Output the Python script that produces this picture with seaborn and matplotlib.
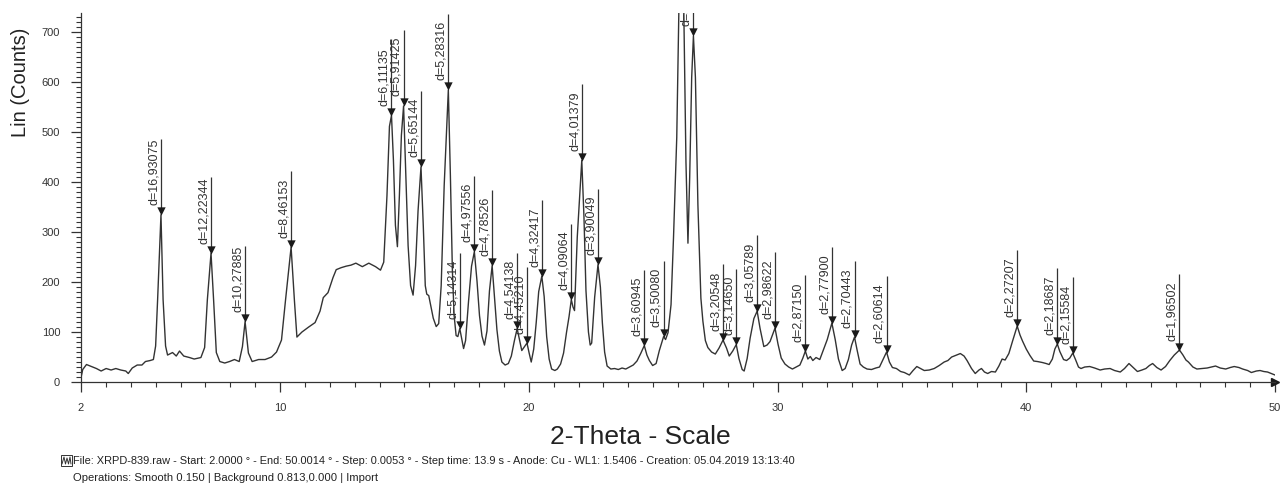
import numpy as np
import pandas as pd
import matplotlib
matplotlib.use("Agg")
import matplotlib.pyplot as plt
from matplotlib.ticker import MultipleLocator
from matplotlib.patches import Rectangle
from matplotlib.lines import Line2D
import seaborn as sns

# scan (2-theta in degrees, Lin counts)
two_theta = [
    2.0, 2.07, 2.22, 2.42, 2.62, 2.81, 3.01, 3.21, 3.40, 3.60,
    3.80, 3.90, 4.06, 4.26, 4.45, 4.59, 4.78, 4.91, 5.00, 5.08,
    5.215, 5.30, 5.40, 5.48, 5.68, 5.83, 5.96, 6.13, 6.36, 6.55,
    6.82, 6.97, 7.08, 7.227, 7.33, 7.44, 7.58, 7.78, 7.97, 8.17,
    8.36, 8.49, 8.596, 8.73, 8.88, 9.14, 9.40, 9.66, 9.86, 10.06,
    10.22, 10.446, 10.58, 10.68, 10.88, 11.15, 11.41, 11.61, 11.74, 11.93,
    12.13, 12.26, 12.46, 12.66, 12.85, 13.05, 13.31, 13.57, 13.84, 14.04,
    14.17, 14.30, 14.40, 14.482, 14.56, 14.64, 14.72, 14.80, 14.88, 14.968,
    15.06, 15.15, 15.25, 15.35, 15.45, 15.55, 15.668, 15.76, 15.84, 15.90,
    15.98, 16.06, 16.16, 16.28, 16.38, 16.48, 16.60, 16.767, 16.85, 16.93,
    17.00, 17.08, 17.15, 17.227, 17.30, 17.38, 17.46, 17.58, 17.70, 17.813,
    17.92, 18.02, 18.12, 18.22, 18.32, 18.42, 18.528, 18.62, 18.72, 18.82,
    18.92, 19.05, 19.18, 19.30, 19.42, 19.533, 19.62, 19.72, 19.82, 19.929,
    20.02, 20.10, 20.20, 20.30, 20.40, 20.525, 20.62, 20.72, 20.82, 20.92,
    21.05, 21.15, 21.28, 21.40, 21.52, 21.62, 21.711, 21.78, 21.84, 21.95,
    22.132, 22.22, 22.30, 22.40, 22.47, 22.53, 22.65, 22.783, 22.88, 22.96,
    23.05, 23.15, 23.30, 23.45, 23.60, 23.75, 23.90, 24.05, 24.20, 24.35,
    24.50, 24.645, 24.75, 24.85, 24.98, 25.12, 25.25, 25.421, 25.50, 25.60,
    25.72, 25.82, 25.95, 26.05, 26.13, 26.22, 26.32, 26.40, 26.47, 26.55,
    26.62, 26.70, 26.80, 26.92, 27.00, 27.10, 27.20, 27.35, 27.50, 27.65,
    27.81, 27.95, 28.06, 28.20, 28.342, 28.45, 28.58, 28.66, 28.78, 28.90,
    29.05, 29.182, 29.30, 29.45, 29.58, 29.70, 29.90, 30.02, 30.15, 30.30,
    30.45, 30.60, 30.75, 30.90, 31.02, 31.12, 31.22, 31.32, 31.42, 31.55,
    31.70, 31.85, 32.00, 32.186, 32.32, 32.45, 32.60, 32.72, 32.85, 32.98,
    33.096, 33.20, 33.32, 33.45, 33.60, 33.78, 33.95, 34.10, 34.25, 34.384,
    34.50, 34.62, 34.78, 34.95, 35.10, 35.30, 35.45, 35.60, 35.75, 35.90,
    36.10, 36.30, 36.50, 36.70, 36.85, 37.00, 37.20, 37.35, 37.50, 37.62,
    37.80, 37.95, 38.10, 38.20, 38.32, 38.45, 38.60, 38.76, 38.90, 39.03,
    39.15, 39.30, 39.45, 39.636, 39.75, 39.85, 40.00, 40.15, 40.30, 40.45,
    40.65, 40.80, 40.92, 41.05, 41.15, 41.25, 41.35, 41.50, 41.62, 41.75,
    41.87, 41.98, 42.10, 42.20, 42.35, 42.55, 42.75, 42.97, 43.15, 43.37,
    43.55, 43.78, 43.95, 44.13, 44.30, 44.47, 44.65, 44.81, 44.95, 45.08,
    45.25, 45.42, 45.60, 45.77, 45.95, 46.16, 46.30, 46.42, 46.52, 46.70,
    46.86, 47.05, 47.27, 47.45, 47.61, 47.80, 48.02, 48.20, 48.36, 48.55,
    48.70, 48.90, 49.05, 49.25, 49.40, 49.55, 49.70, 49.85, 50.00,
]
counts = [
    9, 25, 35, 31, 27, 22, 27, 24, 27, 24,
    22, 17, 28, 34, 34, 41, 43, 45, 72, 165,
    335, 165, 72, 54, 59, 52, 62, 52, 49, 46,
    49, 69, 165, 258, 165, 59, 41, 38, 41, 45,
    41, 71, 121, 58, 41, 45, 45, 50, 60, 84,
    163, 270, 163, 90, 100, 110, 119, 142, 169, 179,
    209, 225, 229, 232, 234, 238, 231, 238, 231, 224,
    240, 373, 512, 534, 444, 314, 271, 374, 494, 553,
    413, 273, 193, 174, 233, 343, 431, 313, 193, 176,
    173, 153, 128, 111, 117, 193, 393, 585, 413, 223,
    133, 93, 91, 107, 88, 67, 83, 162, 232, 261,
    202, 133, 92, 74, 102, 182, 233, 172, 105, 62,
    40, 34, 37, 52, 82, 107, 87, 63, 70, 78,
    57, 40, 66, 119, 181, 212, 171, 91, 46, 26,
    23, 26, 36, 58, 100, 131, 165, 150, 143, 290,
    444, 330, 183, 100, 74, 78, 170, 235, 190, 118,
    60, 32, 26, 27, 25, 28, 26, 30, 34, 42,
    57, 73, 54, 43, 33, 37, 63, 91, 85, 99,
    155, 290, 490, 790, 950, 790, 440, 278, 410, 610,
    693, 610, 355, 168, 122, 83, 69, 60, 56, 68,
    84, 68, 52, 62, 75, 47, 25, 22, 47, 88,
    127, 142, 107, 71, 74, 81, 108, 76, 48, 36,
    30, 26, 30, 34, 48, 62, 46, 51, 43, 49,
    45, 65, 85, 118, 85, 46, 23, 27, 45, 74,
    90, 64, 36, 30, 26, 25, 28, 30, 46, 60,
    40, 29, 27, 21, 19, 14, 23, 31, 27, 23,
    24, 27, 33, 40, 43, 50, 54, 57, 52, 43,
    27, 17, 24, 27, 20, 17, 21, 20, 32, 46,
    44, 57, 82, 112, 94, 82, 66, 53, 42, 41,
    39, 37, 35, 46, 66, 76, 61, 45, 43, 48,
    58, 45, 30, 27, 30, 31, 28, 24, 26, 27,
    23, 20, 27, 37, 29, 21, 24, 27, 33, 37,
    29, 24, 31, 43, 54, 64, 54, 44, 40, 30,
    26, 27, 28, 30, 32, 28, 26, 29, 31, 29,
    26, 23, 19, 22, 23, 21, 20, 17, 14,
]

# marked peaks
peak_pos = [5.215, 7.227, 8.596, 10.446, 14.482, 14.968, 15.668, 16.767,
            17.227, 17.813, 18.528, 19.533, 19.929, 20.525, 21.711, 22.132,
            22.783, 24.645, 25.421, 26.62, 27.81, 28.342, 29.182, 29.90,
            31.12, 32.186, 33.096, 34.384, 39.636, 41.25, 41.87, 46.16]
peak_counts = [335, 258, 121, 270, 534, 553, 431, 585,
               107, 261, 233, 107, 78, 212, 165, 444,
               235, 73, 91, 693, 84, 75, 142, 108,
               62, 118, 90, 60, 112, 76, 58, 64]
peak_d = ["16,93075", "12,22344", "10,27885", "8,46153", "6,11135", "5,91425",
          "5,65144", "5,28316", "5,14314", "4,97556", "4,78526", "4,54138",
          "4,45210", "4,32417", "4,09064", "4,01379", "3,90049", "3,60945",
          "3,50080", "3,34578", "3,20548", "3,14650", "3,05789", "2,98622",
          "2,87150", "2,77900", "2,70443", "2,60614", "2,27207", "2,18687",
          "2,15584", "1,96502"]

footer_1 = ("File: XRPD-839.raw - Start: 2.0000 \u00b0 - End: 50.0014 \u00b0 - "
            "Step: 0.0053 \u00b0 - Step time: 13.9 s - Anode: Cu - WL1: 1.5406 - "
            "Creation: 05.04.2019 13:13:40")
footer_2 = "Operations: Smooth 0.150 | Background 0.813,0.000 | Import"

INK = "#333333"


def main():
    sns.set_style("ticks")
    plt.rcParams["font.family"] = ["Liberation Sans", "DejaVu Sans"]

    W, H = 1284, 488
    fig = plt.figure(figsize=(W / 100, H / 100), dpi=100)
    ax = fig.add_axes([81 / W, 1 - 382 / H, 1194 / W, 369 / H])

    scan = pd.DataFrame({"two_theta": two_theta, "counts": counts})
    sns.lineplot(data=scan, x="two_theta", y="counts", ax=ax, color=INK,
                 lw=1.0, estimator=None, errorbar=None, sort=False)

    pk = np.asarray(peak_counts, dtype=float)
    sns.scatterplot(x=peak_pos, y=pk + 7, marker="v", s=36, color="#1a1a1a",
                    linewidth=0, ax=ax, zorder=4)
    ax.vlines(peak_pos, pk + 7, pk + 152, color=INK, lw=0.9, zorder=3)
    # the label of the strongest reflection runs off the top, as on the print
    for x, y, d in zip(peak_pos, pk, peak_d):
        ax.annotate("d=" + d, xy=(x, y + 19), xytext=(-0.8, 0),
                    textcoords="offset points", rotation=90, ha="right",
                    va="bottom", fontsize=9, color=INK, clip_on=True)

    ax.set_xlim(2, 50)
    ax.set_ylim(0, 739)
    ax.set_xticks([2, 10, 20, 30, 40, 50])
    ax.xaxis.set_minor_locator(MultipleLocator(1))
    ax.yaxis.set_major_locator(MultipleLocator(100))
    ax.yaxis.set_minor_locator(MultipleLocator(10))
    ax.tick_params(which="major", length=7, width=0.9, color=INK,
                   labelsize=8, labelcolor=INK, pad=8)
    ax.tick_params(which="minor", length=3.6, width=0.8, color=INK)
    ax.set_xlabel("")
    ax.set_ylabel("")
    sns.despine(ax=ax)
    for side in ("left", "bottom"):
        ax.spines[side].set_color(INK)
        ax.spines[side].set_linewidth(0.9)
    # arrow head at the end of the 2-theta axis
    ax.plot([1], [0], marker=">", ms=6, color="#1a1a1a",
            transform=ax.get_yaxis_transform(), clip_on=False)

    fig.text(21 / W, 1 - 82 / H, "Lin (Counts)", rotation=90, ha="center",
             va="center", fontsize=14.5, color="#222222")
    fig.text(640 / W, 1 - 437 / H, "2-Theta - Scale", ha="center",
             va="center", fontsize=19, color="#222222")

    # small scan icon in front of the file line
    fig.add_artist(Rectangle((61 / W, 1 - 466 / H), 11 / W, 11 / H,
                             transform=fig.transFigure, fill=False,
                             lw=0.7, edgecolor=INK))
    fig.add_artist(Line2D(np.array([62, 64, 65.5, 67, 68.5, 70, 71]) / W,
                          1 - np.array([464, 457, 464, 458, 464, 457, 464]) / H,
                          transform=fig.transFigure, lw=0.7, color=INK))
    fig.text(73 / W, 1 - 461 / H, footer_1, ha="left", va="center",
             fontsize=7.9, color="#222222")
    fig.text(73 / W, 1 - 478 / H, footer_2, ha="left", va="center",
             fontsize=8.1, color="#222222")

    fig.savefig("out.png", dpi=100, facecolor="white")


if __name__ == "__main__":
    main()
